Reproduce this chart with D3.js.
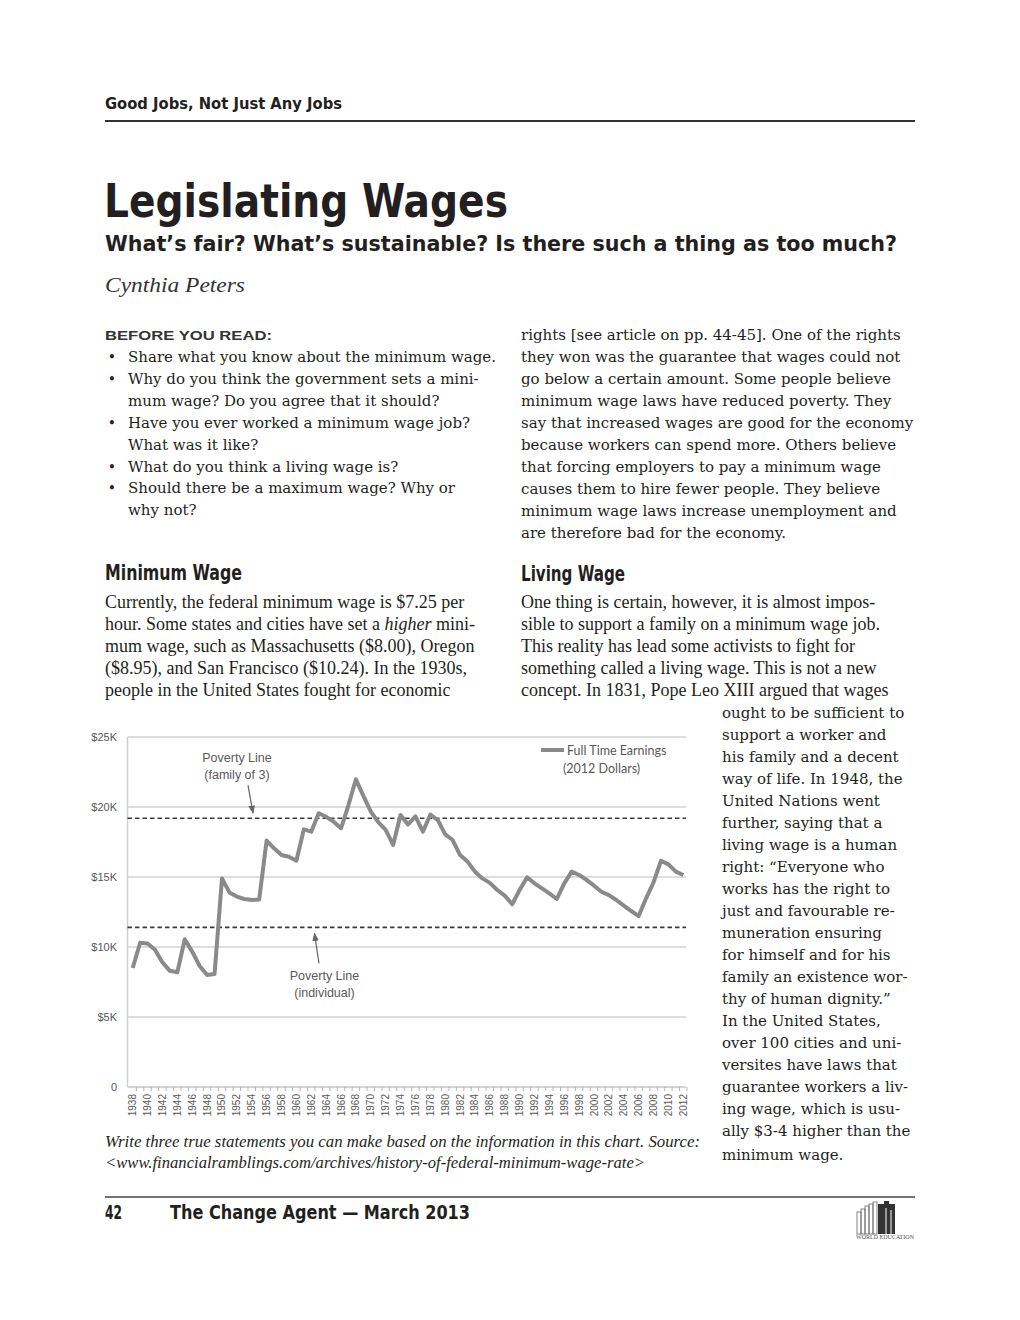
<!DOCTYPE html>
<html><head><meta charset="utf-8">
<script src="https://cdn.jsdelivr.net/npm/d3@7"></script>
<style>html,body{margin:0;padding:0;background:#fff}</style>
</head><body>
<svg id="page" width="1020" height="1320"></svg>
<script>
// ---------- chart data ----------
const years = [1938,1939,1940,1941,1942,1943,1944,1945,1946,1947,1948,1949,1950,1951,1952,1953,1954,1955,1956,1957,1958,1959,1960,1961,1962,1963,1964,1965,1966,1967,1968,1969,1970,1971,1972,1973,1974,1975,1976,1977,1978,1979,1980,1981,1982,1983,1984,1985,1986,1987,1988,1989,1990,1991,1992,1993,1994,1995,1996,1997,1998,1999,2000,2001,2002,2003,2004,2005,2006,2007,2008,2009,2010,2011,2012];
// full time minimum wage earnings, thousands of 2012 dollars
const earnings = [8.5,10.3,10.25,9.8,8.9,8.3,8.2,10.55,9.67,8.64,8.0,8.07,14.9,13.9,13.6,13.43,13.36,13.4,17.6,17.05,16.57,16.45,16.16,18.4,18.24,19.55,19.3,18.95,18.48,20.14,21.98,20.79,19.67,18.92,18.36,17.29,19.43,18.75,19.33,18.24,19.45,19.07,18.05,17.64,16.57,16.1,15.38,14.9,14.58,14.07,13.67,13.05,14.07,14.98,14.55,14.19,13.83,13.43,14.55,15.38,15.14,14.79,14.38,13.95,13.71,13.36,12.95,12.57,12.21,13.48,14.62,16.16,15.9,15.38,15.14];
const povertyValues = [19.2, 11.4];
const povertyLabels = [["Poverty Line","(family of 3)"],["Poverty Line","(individual)"]];
const yTickValues = [0,5,10,15,20,25];
const yTickLabels = ["0","$5K","$10K","$15K","$20K","$25K"];
const xLabelYears = years.filter(y => y % 2 === 0);
const legendLabels = ["Full Time Earnings","(2012 Dollars)"];

// ---------- page text ----------
const beforeLines = [
 [true,"Share what you know about the minimum wage."],
 [true,"Why do you think the government sets a mini-"],
 [false,"mum wage? Do you agree that it should?"],
 [true,"Have you ever worked a minimum wage job?"],
 [false,"What was it like?"],
 [true,"What do you think a living wage is?"],
 [true,"Should there be a maximum wage? Why or"],
 [false,"why not?"]];
const rightTopLines = [
 "rights [see article on pp. 44-45]. One of the rights",
 "they won was the guarantee that wages could not",
 "go below a certain amount. Some people believe",
 "minimum wage laws have reduced poverty. They",
 "say that increased wages are good for the economy",
 "because workers can spend more. Others believe",
 "that forcing employers to pay a minimum wage",
 "causes them to hire fewer people. They believe",
 "minimum wage laws increase unemployment and",
 "are therefore bad for the economy."];
const minWageLines = [
 ["Currently, the federal minimum wage is $7.25 per"],
 ["hour. Some states and cities have set a ", "higher", " mini-"],
 ["mum wage, such as Massachusetts ($8.00), Oregon"],
 ["($8.95), and San Francisco ($10.24). In the 1930s,"],
 ["people in the United States fought for economic"]];
const livingLines = [
 "One thing is certain, however, it is almost impos-",
 "sible to support a family on a minimum wage job.",
 "This reality has lead some activists to fight for",
 "something called a living wage. This is not a new",
 "concept. In 1831, Pope Leo XIII argued that wages"];
const narrowLines = [
 "ought to be sufficient to","support a worker and","his family and a decent",
 "way of life. In 1948, the","United Nations went","further, saying that a",
 "living wage is a human","right: \u201cEveryone who","works has the right to",
 "just and favourable re-","muneration ensuring","for himself and for his",
 "family an existence wor-","thy of human dignity.\u201d","In the United States,",
 "over 100 cities and uni-","versites have laws that","guarantee workers a liv-",
 "ing wage, which is usu-","ally $3-4 higher than the"];

const svg = d3.select("#page");
svg.append("rect").attr("width",1020).attr("height",1320).attr("fill","#fff");

const COND = "'Liberation Sans Narrow','DejaVu Sans Condensed','Liberation Sans',sans-serif";
const BODY = "'DejaVu Serif',serif";
const CSERIF = "'Liberation Serif',serif";
const INK = "#231f20";

function T(s, x, y, o = {}) {
  const t = svg.append("text").attr("x", x).attr("y", y).text(s)
    .attr("font-family", o.f || BODY).attr("font-size", o.s || 15)
    .attr("fill", o.c || INK);
  if (o.w) t.attr("textLength", o.w).attr("lengthAdjust", "spacingAndGlyphs");
  if (o.b) t.attr("font-weight", "bold");
  if (o.i) t.attr("font-style", "italic");
  if (o.a) t.attr("text-anchor", o.a);
  if (o.ls) t.attr("letter-spacing", o.ls);
  return t;
}

// header
T("Good Jobs, Not Just Any Jobs", 105, 109, {f:COND, s:15, b:true, w:237});
svg.append("line").attr("x1",105).attr("x2",915).attr("y1",121).attr("y2",121).attr("stroke","#333").attr("stroke-width",2);
T("Legislating Wages", 104, 217, {f:COND, s:47, b:true, w:404});
T("What\u2019s fair? What\u2019s sustainable? Is there such a thing as too much?", 105, 251, {f:COND, s:21, b:true, w:792});
T("Cynthia Peters", 105, 292, {f:CSERIF, s:21, i:true, w:140, c:"#333"});

// Before you read
T("BEFORE YOU READ:", 105, 340, {f:"'Liberation Sans',sans-serif", s:12, b:true, w:167, c:"#333"});
beforeLines.forEach((d, i) => {
  const y = 362 + i * 21.9;
  if (d[0]) T("\u2022", 112, y, {s:14, a:"middle"});
  T(d[1], 128, y);
});
rightTopLines.forEach((d, i) => T(d, 521, 340 + i * 22));

// section headings
T("Minimum Wage", 105, 580, {f:COND, s:22, b:true, w:137});
T("Living Wage", 521, 581, {f:COND, s:22, b:true, w:104});

minWageLines.forEach((d, i) => {
  const t = svg.append("text").attr("x",105).attr("y",608 + i*22)
    .attr("font-family",CSERIF).attr("font-size",18).attr("fill",INK);
  d.forEach((p, j) => {
    const ts = t.append("tspan").text(p);
    if (d.length > 1 && j === 1) ts.attr("font-style","italic");
  });
});
livingLines.forEach((d, i) => T(d, 521, 608 + i * 22, {f:CSERIF, s:18}));
narrowLines.forEach((d, i) => T(d, 722, 718 + i * 22));
T("minimum wage.", 722, 1160);

// caption
T("Write three true statements you can make based on the information in this chart. Source:", 105, 1147, {f:CSERIF, s:17, i:true, w:595});
T("<www.financialramblings.com/archives/history-of-federal-minimum-wage-rate>", 105, 1168, {f:CSERIF, s:17, i:true, w:540});

// footer
svg.append("line").attr("x1",105).attr("x2",915).attr("y1",1197).attr("y2",1197).attr("stroke","#444").attr("stroke-width",1.3);
T("42", 105, 1219, {f:COND, s:19, b:true, w:17});
T("The Change Agent \u2014 March 2013", 170, 1219, {f:COND, s:19, b:true, w:300});
// logo
const logo = svg.append("g");
[[857,1212,1234],[861,1209,1234],[865,1206,1234],[869,1204,1234],[873,1202,1234]].forEach(b => {
  logo.append("rect").attr("x",b[0]).attr("y",b[1]).attr("width",4).attr("height",b[2]-b[1])
    .attr("fill","none").attr("stroke","#666").attr("stroke-width",0.8);
});
logo.append("path").attr("d","M878,1204 h6 v-3 h5 v3 h6 v30 h-17 z").attr("fill","#333");
logo.append("path").attr("d","M886,1208 v26 M891,1210 v24").attr("stroke","#fff").attr("stroke-width",1);
T("WORLD EDUCATION", 885, 1239, {f:CSERIF, s:7, a:"middle", c:"#555", w:58}).attr("x", 856).attr("text-anchor","start");

// ---------- chart ----------
const plotL = 127.5, plotR = 686;
const x = d3.scaleLinear().domain([years[0], years[years.length-1]]).range([132.7, 683.3]);
const y = d3.scaleLinear().domain([0, 25]).range([1087, 737]);
const ch = svg.append("g").attr("font-family","'Liberation Sans',Arial,sans-serif");
const CHART_TXT = "#595959";

// gridlines
ch.append("g").selectAll("line").data(yTickValues.filter(v => v > 0)).join("line")
  .attr("x1", plotL).attr("x2", plotR).attr("y1", d => y(d)).attr("y2", d => y(d))
  .attr("stroke", "#d2d2d2").attr("stroke-width", 1.6);
// y axis labels
ch.append("g").selectAll("text").data(yTickValues).join("text")
  .attr("x", 117).attr("y", d => y(d) + 4).attr("text-anchor","end")
  .attr("font-size", 11).attr("fill", CHART_TXT).text((d, i) => yTickLabels[i]);
// vertical axis line
ch.append("line").attr("x1", plotL).attr("x2", plotL).attr("y1", y(25)).attr("y2", y(0))
  .attr("stroke", "#cfcfcf").attr("stroke-width", 1.5);
// x axis
ch.append("line").attr("x1", plotL).attr("x2", plotR).attr("y1", y(0)).attr("y2", y(0))
  .attr("stroke", "#c4c4c4").attr("stroke-width", 1.5);
ch.append("g").selectAll("line").data(years).join("line")
  .attr("x1", d => x(d) + 3.7).attr("x2", d => x(d) + 3.7).attr("y1", y(0)).attr("y2", y(0) + 4)
  .attr("stroke", "#b5b5b5").attr("stroke-width", 1);
ch.append("g").selectAll("text").data(xLabelYears).join("text")
  .attr("transform", d => `translate(${x(d) + 3.5},${y(0) + 7}) rotate(-90)`)
  .attr("text-anchor","end").attr("font-size", 10).attr("fill", CHART_TXT).text(d => d);

// poverty dashed lines
ch.append("g").selectAll("line").data(povertyValues).join("line")
  .attr("x1", plotL).attr("x2", plotR).attr("y1", d => y(d)).attr("y2", d => y(d))
  .attr("stroke", "#3a3a3a").attr("stroke-width", 1.6).attr("stroke-dasharray", "4.5,3");

// data line
ch.append("path").datum(years.map((yr, i) => [yr, earnings[i]]))
  .attr("d", d3.line().x(d => x(d[0])).y(d => y(d[1])))
  .attr("fill","none").attr("stroke","#8a8a8a").attr("stroke-width",4)
  .attr("stroke-linejoin","round").attr("stroke-linecap","butt");

// legend
ch.append("line").attr("x1", 541).attr("x2", 564).attr("y1", 750).attr("y2", 750)
  .attr("stroke","#8a8a8a").attr("stroke-width",4);
ch.append("text").attr("x", 567).attr("y", 754.5).attr("font-family","Lato,'Open Sans',sans-serif")
  .attr("font-size", 12.5).attr("fill", CHART_TXT).text(legendLabels[0]);
ch.append("text").attr("x", 563).attr("y", 772.5).attr("font-family","Lato,'Open Sans',sans-serif")
  .attr("font-size", 12.5).attr("fill", CHART_TXT).text(legendLabels[1]);

// annotations
const defs = svg.append("defs");
defs.append("marker").attr("id","ah").attr("viewBox","0 0 10 10").attr("refX",9).attr("refY",5)
  .attr("markerWidth",7).attr("markerHeight",7).attr("orient","auto")
  .append("path").attr("d","M0,1 L10,5 L0,9 z").attr("fill","#666");
// family of 3 (label above line)
const famY = y(povertyValues[0]);
[0,1].forEach(k => ch.append("text").attr("x", 237).attr("y", famY - 56 + k * 17)
  .attr("text-anchor","middle").attr("font-size",12.5).attr("fill",CHART_TXT).text(povertyLabels[0][k]));
ch.append("line").attr("x1", 248).attr("y1", famY - 33).attr("x2", 253).attr("y2", famY - 5)
  .attr("stroke","#666").attr("stroke-width",1.2).attr("marker-end","url(#ah)");
// individual (label below line)
const indY = y(povertyValues[1]);
[0,1].forEach(k => ch.append("text").attr("x", 324.5).attr("y", indY + 53 + k * 16.5)
  .attr("text-anchor","middle").attr("font-size",12.5).attr("fill",CHART_TXT).text(povertyLabels[1][k]));
ch.append("line").attr("x1", 319).attr("y1", indY + 36).attr("x2", 314.5).attr("y2", indY + 6)
  .attr("stroke","#666").attr("stroke-width",1.2).attr("marker-end","url(#ah)");
</script>
</body></html>
